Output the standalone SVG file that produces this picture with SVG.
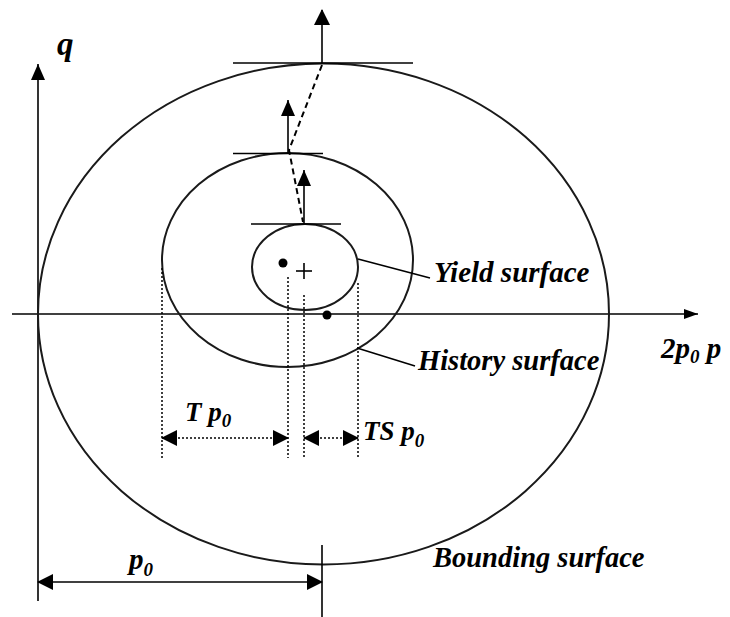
<svg xmlns="http://www.w3.org/2000/svg" width="730" height="617" viewBox="0 0 730 617">
<defs>
<style>
.ell{fill:none;stroke:#1a1a1a;stroke-width:2}
.ln{stroke:#000;stroke-width:1.6;fill:none}
.dot{stroke:#000;stroke-width:1.5;stroke-dasharray:2 2;fill:none}
.dash{stroke:#000;stroke-width:2;stroke-dasharray:6 4;fill:none}
.lbl{font-family:"Liberation Serif","Times New Roman",serif;font-style:italic;font-weight:bold;fill:#000}
.head{fill:#000}
</style>
<marker id="ah" viewBox="0 0 16 16" refX="15" refY="8" markerWidth="16" markerHeight="16" markerUnits="userSpaceOnUse" orient="auto-start-reverse">
<path d="M0,0 L16,8 L0,16 Z" class="head"/>
</marker>
<marker id="ahs" viewBox="0 0 14 10" refX="14" refY="5" markerWidth="14" markerHeight="10" markerUnits="userSpaceOnUse" orient="auto">
<path d="M0,0 L14,5 L0,10 Z" class="head"/>
</marker>
<marker id="ahq" viewBox="0 0 16 14" refX="16" refY="7" markerWidth="16" markerHeight="14" markerUnits="userSpaceOnUse" orient="auto">
<path d="M0,0 L16,7 L0,14 Z" class="head"/>
</marker>
</defs>
<rect width="730" height="617" fill="#fff"/>

<g id="axes">
<line class="ln" x1="38" y1="601" x2="38" y2="64" marker-end="url(#ahq)"/>
<line class="ln" x1="12" y1="314" x2="698" y2="314" marker-end="url(#ahs)"/>
<text class="lbl" x="57" y="55" font-size="33">q</text>
<text class="lbl" x="661" y="358" font-size="29">2p<tspan font-size="19" dy="5">0</tspan><tspan dy="-5"> p</tspan></text>
</g>

<g id="bounding">
<ellipse class="ell" cx="323.5" cy="314" rx="285.5" ry="250.5"/>
<text class="lbl" x="433" y="567" font-size="28.5">Bounding surface</text>
</g>

<g id="history">
<ellipse class="ell" cx="287.5" cy="260" rx="125.5" ry="107"/>
<text class="lbl" x="418" y="370" font-size="28.5">History surface</text>
</g>

<g id="yield">
<ellipse class="ell" cx="305" cy="267" rx="53" ry="43"/>
<circle cx="283" cy="263" r="4.5" fill="#000"/>
<circle cx="327" cy="315" r="4.5" fill="#000"/>
<line class="ln" x1="296" y1="271" x2="312" y2="271"/>
<line class="ln" x1="304" y1="263" x2="304" y2="279"/>
<text class="lbl" x="434" y="282" font-size="29">Yield surface</text>
</g>

<g id="connectors">
<line class="ln" x1="233" y1="63" x2="413" y2="63"/>
<line class="ln" x1="233" y1="153.5" x2="323" y2="153.5"/>
<line class="ln" x1="251" y1="224" x2="341" y2="224"/>
<line class="ln" x1="322" y1="63" x2="322" y2="10" marker-end="url(#ah)"/>
<line class="ln" x1="288" y1="153" x2="288" y2="100" marker-end="url(#ahq)"/>
<line class="ln" x1="304" y1="224" x2="304" y2="170" marker-end="url(#ahq)"/>
<polyline class="dash" points="322,65 289,150 303,222"/>
<line class="ln" x1="358" y1="259" x2="430" y2="278"/>
<line class="ln" x1="357" y1="348" x2="415" y2="366"/>
<line class="dot" x1="162" y1="268" x2="162" y2="458"/>
<line class="dot" x1="288" y1="277" x2="288" y2="458"/>
<line class="dot" x1="304" y1="295" x2="304" y2="458"/>
<line class="dot" x1="358" y1="283" x2="358" y2="458"/>
<line class="dot" x1="162" y1="438" x2="288" y2="438" marker-start="url(#ah)" marker-end="url(#ah)"/>
<line class="dot" x1="304" y1="438" x2="358" y2="438" marker-start="url(#ah)" marker-end="url(#ah)"/>
<line class="ln" x1="322" y1="545" x2="322" y2="617"/>
<line class="ln" x1="38" y1="582" x2="322" y2="582" marker-start="url(#ah)" marker-end="url(#ah)"/>
</g>

<g id="dims">
<text class="lbl" x="185" y="421" font-size="27">T <tspan>p</tspan><tspan font-size="19" dy="6">0</tspan></text>
<text class="lbl" x="363" y="440" font-size="27">TS p<tspan font-size="19" dy="7">0</tspan></text>
<text class="lbl" x="129" y="569" font-size="29">p<tspan font-size="19" dy="7">0</tspan></text>
</g>
</svg>
